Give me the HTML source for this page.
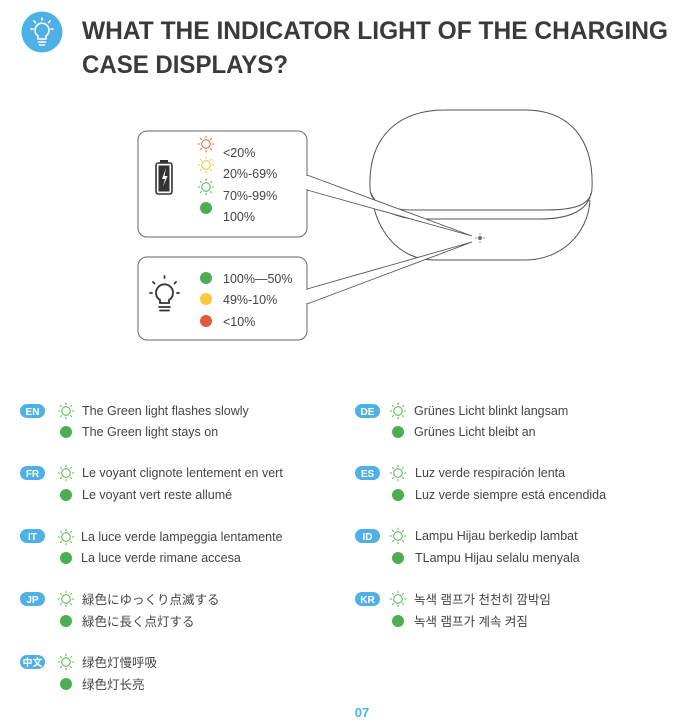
<!DOCTYPE html>
<html><head><meta charset="utf-8"><style>
body{margin:0;background:#fff}
svg{display:block}
text{font-family:"Liberation Sans","Noto Sans CJK JP","Noto Sans CJK KR","Noto Sans CJK SC",sans-serif}
.t{font-size:12.5px;fill:#444}
.b{font-size:10px;font-weight:bold;fill:#fff}
</style></head><body>
<svg width="691" height="725" viewBox="0 0 691 725" xmlns="http://www.w3.org/2000/svg">
<defs>
<g id="sun">
<circle r="4.3" fill="none" stroke="currentColor" stroke-width="1.1"/>
<g stroke="currentColor" stroke-width="1.1" stroke-linecap="round">
<line x1="0" y1="-6.5" x2="0" y2="-7.8"/><line x1="0" y1="6.5" x2="0" y2="7.8"/>
<line x1="-6.5" y1="0" x2="-7.8" y2="0"/><line x1="6.5" y1="0" x2="7.8" y2="0"/>
<line x1="4.6" y1="4.6" x2="5.5" y2="5.5"/><line x1="-4.6" y1="4.6" x2="-5.5" y2="5.5"/>
<line x1="4.6" y1="-4.6" x2="5.5" y2="-5.5"/><line x1="-4.6" y1="-4.6" x2="-5.5" y2="-5.5"/>
</g></g>
<circle id="dot" r="6" fill="#4cae50"/>
</defs>

<!-- header -->
<circle cx="42" cy="32" r="20.5" fill="#4fb0e6"/>
<g stroke="#fff" stroke-width="1.6" fill="none" stroke-linecap="round">
<path d="M38 39 v-3 a7 7 0 1 1 8 0 v3 z"/>
<line x1="38.5" y1="42" x2="45.5" y2="42"/><line x1="39.5" y1="45" x2="44.5" y2="45"/>
<line x1="42" y1="18" x2="42" y2="20"/><line x1="31" y1="29" x2="33" y2="29"/><line x1="51" y1="29" x2="53" y2="29"/>
<line x1="34" y1="21" x2="35.5" y2="22.5"/><line x1="50" y1="21" x2="48.5" y2="22.5"/>
</g>
<text x="82" y="39" font-size="25" font-weight="bold" fill="#3a3a3a" textLength="586" lengthAdjust="spacingAndGlyphs">WHAT THE INDICATOR LIGHT OF THE CHARGING</text>
<text x="82" y="73" font-size="25" font-weight="bold" fill="#3a3a3a" textLength="206" lengthAdjust="spacingAndGlyphs">CASE DISPLAYS?</text>

<!-- case -->
<g fill="none" stroke="#555" stroke-width="1">
<path d="M370 188 C368 135 400 110 445 110 H525 C570 110 594 140 592 188 C592 205 575 210 545 210 H415 C385 210 370 203 370 188 Z"/>
<path d="M371 193 C378 210 398 219 420 219 H540 C570 219 588 210 591 193"/>
<path d="M372 200 C380 240 405 260 435 260 H525 C560 260 588 235 590 200"/>
</g>
<g stroke="#888" stroke-width="0.8"><circle cx="480" cy="238" r="1.8" fill="#666"/>
<line x1="480" y1="233" x2="480" y2="235"/><line x1="480" y1="241" x2="480" y2="243"/><line x1="475" y1="238" x2="477" y2="238"/><line x1="483" y1="238" x2="485" y2="238"/></g>

<!-- callouts -->
<path d="M307 175 L472 236 L307 190" fill="#fff" stroke="#555" stroke-width="0.9"/>
<path d="M307 289 L472 242 L307 304" fill="#fff" stroke="#555" stroke-width="0.9"/>
<rect x="138" y="131" width="169" height="106" rx="9" fill="#fff" stroke="#666" stroke-width="1"/>
<rect x="138" y="257" width="169" height="83" rx="9" fill="#fff" stroke="#666" stroke-width="1"/>
<line x1="307" y1="176" x2="307" y2="189" stroke="#fff" stroke-width="2"/>
<line x1="307" y1="290" x2="307" y2="303" stroke="#fff" stroke-width="2"/>

<!-- battery -->
<rect x="156" y="163" width="16" height="31" rx="2.5" fill="none" stroke="#333" stroke-width="1.6"/>
<rect x="160" y="160" width="8" height="2.5" fill="#333"/>
<rect x="158.5" y="165.5" width="11" height="26" fill="#333"/>
<path d="M166 168 L162 179 H165 L163 187 L167.5 176 H164.5 Z" fill="#fff"/>
<use href="#sun" x="206" y="144" color="#e96a4a"/>
<use href="#sun" x="206" y="165" color="#f4c542"/>
<use href="#sun" x="206" y="187" color="#5cb85c"/>
<use href="#dot" x="206" y="208"/>
<text class="t" x="223" y="157">&lt;20%</text>
<text class="t" x="223" y="178">20%-69%</text>
<text class="t" x="223" y="200">70%-99%</text>
<text class="t" x="223" y="221">100%</text>

<!-- bulb -->
<g stroke="#333" stroke-width="1.8" fill="none" stroke-linecap="round">
<path d="M160 303 v-3 a8.5 8.5 0 1 1 9 0 v3 z"/>
<line x1="159" y1="307" x2="170" y2="307"/><line x1="160" y1="310.5" x2="169" y2="310.5"/>
<line x1="164.5" y1="276" x2="164.5" y2="278"/><line x1="150" y1="293" x2="152" y2="293"/><line x1="177" y1="293" x2="179" y2="293"/>
<line x1="153" y1="282" x2="154.5" y2="283.5"/><line x1="176" y1="282" x2="174.5" y2="283.5"/>
</g>
<circle cx="206" cy="278" r="6" fill="#4cae50"/>
<circle cx="206" cy="299" r="6" fill="#f8c93a"/>
<circle cx="206" cy="321" r="6" fill="#e3593f"/>
<text class="t" x="223" y="283">100%—50%</text>
<text class="t" x="223" y="304">49%-10%</text>
<text class="t" x="223" y="326">&lt;10%</text>

<!-- languages -->
<g color="#5cb85c">
<rect x="20" y="404" width="25" height="14" rx="7" fill="#4fb0e6"/><text class="b" x="32.5" y="415" text-anchor="middle">EN</text>
<use href="#sun" x="66" y="411"/><text class="t" x="82" y="415">The Green light flashes slowly</text>
<use href="#dot" x="66" y="432"/><text class="t" x="82" y="436">The Green light stays on</text>

<rect x="20" y="466" width="25" height="14" rx="7" fill="#4fb0e6"/><text class="b" x="32.5" y="477" text-anchor="middle">FR</text>
<use href="#sun" x="66" y="473"/><text class="t" x="82" y="477">Le voyant clignote lentement en vert</text>
<use href="#dot" x="66" y="495"/><text class="t" x="82" y="499">Le voyant vert reste allumé</text>

<rect x="20" y="529" width="25" height="14" rx="7" fill="#4fb0e6"/><text class="b" x="32.5" y="540" text-anchor="middle">IT</text>
<use href="#sun" x="66" y="537"/><text class="t" x="81" y="541" font-size="12">La luce verde lampeggia lentamente</text>
<use href="#dot" x="66" y="558"/><text class="t" x="81" y="562" font-size="12">La luce verde rimane accesa</text>

<rect x="20" y="592" width="25" height="14" rx="7" fill="#4fb0e6"/><text class="b" x="32.5" y="603" text-anchor="middle">JP</text>
<use href="#sun" x="66" y="599"/><text class="t" x="82" y="604" font-size="12">緑色にゆっくり点滅する</text>
<use href="#dot" x="66" y="621"/><text class="t" x="82" y="626" font-size="12">緑色に長く点灯する</text>

<rect x="20" y="655" width="25" height="14" rx="7" fill="#4fb0e6"/><text class="b" x="32.5" y="666" text-anchor="middle" font-size="9">中文</text>
<use href="#sun" x="66" y="662"/><text class="t" x="82" y="667" font-size="12">绿色灯慢呼吸</text>
<use href="#dot" x="66" y="684"/><text class="t" x="82" y="689" font-size="12">绿色灯长亮</text>

<rect x="355" y="404" width="25" height="14" rx="7" fill="#4fb0e6"/><text class="b" x="367.5" y="415" text-anchor="middle">DE</text>
<use href="#sun" x="398" y="411"/><text class="t" x="414" y="415">Grünes Licht blinkt langsam</text>
<use href="#dot" x="398" y="432"/><text class="t" x="414" y="436">Grünes Licht bleibt an</text>

<rect x="355" y="466" width="25" height="14" rx="7" fill="#4fb0e6"/><text class="b" x="367.5" y="477" text-anchor="middle">ES</text>
<use href="#sun" x="398" y="473"/><text class="t" x="415" y="477">Luz verde respiración lenta</text>
<use href="#dot" x="398" y="495"/><text class="t" x="415" y="499">Luz verde siempre está encendida</text>

<rect x="355" y="529" width="25" height="14" rx="7" fill="#4fb0e6"/><text class="b" x="367.5" y="540" text-anchor="middle">ID</text>
<use href="#sun" x="398" y="536"/><text class="t" x="415" y="540">Lampu Hijau berkedip lambat</text>
<use href="#dot" x="398" y="558"/><text class="t" x="415" y="562">TLampu Hijau selalu menyala</text>

<rect x="355" y="592" width="25" height="14" rx="7" fill="#4fb0e6"/><text class="b" x="367.5" y="603" text-anchor="middle">KR</text>
<use href="#sun" x="398" y="599"/><text class="t" x="414" y="604" font-size="12">녹색 램프가 천천히 깜박임</text>
<use href="#dot" x="398" y="621"/><text class="t" x="414" y="626" font-size="12">녹색 램프가 계속 켜짐</text>
</g>

<text x="362" y="717" font-size="13" font-weight="bold" fill="#4fb0e6" text-anchor="middle">07</text>
</svg>
</body></html>
